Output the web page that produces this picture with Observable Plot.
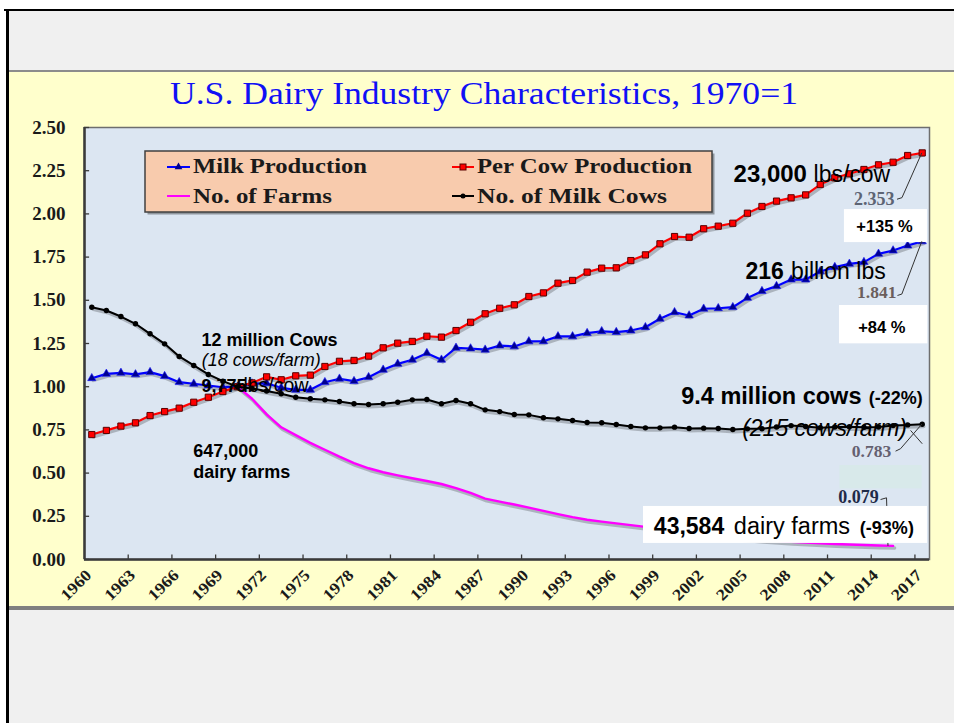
<!DOCTYPE html>
<html>
<head>
<meta charset="utf-8">
<script src="https://cdn.jsdelivr.net/npm/d3@7"></script>
<script src="https://cdn.jsdelivr.net/npm/@observablehq/plot@0.6"></script>
<style>
html, body { margin: 0; padding: 0; background: #ffffff; }
#page { position: relative; width: 954px; height: 723px; overflow: hidden; }
.bg { position: absolute; }
#chart { position: absolute; left: 0; top: 0; }
#overlay { position: absolute; left: 0; top: 0; pointer-events: none; }
</style>
</head>
<body>
<div id="page">
  <div class="bg" style="left:4px;top:9px;width:950px;height:2px;background:#000;"></div>
  <div class="bg" style="left:9px;top:11px;width:945px;height:59px;background:#f0f0f0;"></div>
  <div class="bg" style="left:9px;top:70px;width:945px;height:2px;background:#8c8c8c;"></div>
  <div class="bg" style="left:9px;top:72px;width:945px;height:534px;background:#ffffcc;"></div>
  <div class="bg" style="left:9px;top:606px;width:945px;height:4px;background:#7f7f7f;"></div>
  <div class="bg" style="left:9px;top:610px;width:945px;height:113px;background:#f0f0f0;"></div>
  <div class="bg" style="left:6px;top:9px;width:3px;height:714px;background:#000;"></div>
  <div id="chart"></div>
</div>
<script>
// ---------------- data ----------------
const years = [1960,1961,1962,1963,1964,1965,1966,1967,1968,1969,
  1970,1971,1972,1973,1974,1975,1976,1977,1978,1979,
  1980,1981,1982,1983,1984,1985,1986,1987,1988,1989,
  1990,1991,1992,1993,1994,1995,1996,1997,1998,1999,
  2000,2001,2002,2003,2004,2005,2006,2007,2008,2009,
  2010,2011,2012,2013,2014,2015,2016,2017];

const milkProduction = [1.049,1.074,1.080,1.071,1.084,1.061,1.026,1.017,1.007,0.997,
  1.000,1.018,1.020,0.994,0.982,0.982,1.026,1.046,1.032,1.055,
  1.098,1.132,1.156,1.194,1.156,1.225,1.221,1.214,1.238,1.233,
  1.262,1.263,1.291,1.291,1.310,1.321,1.316,1.325,1.344,1.393,
  1.431,1.412,1.451,1.454,1.460,1.514,1.553,1.582,1.620,1.620,
  1.667,1.692,1.711,1.721,1.769,1.788,1.817,1.841];

const perCowProduction = [0.723,0.747,0.772,0.791,0.833,0.856,0.876,0.910,0.939,0.972,
  1.000,1.022,1.057,1.040,1.063,1.067,1.117,1.147,1.152,1.177,
  1.225,1.252,1.262,1.292,1.287,1.325,1.373,1.422,1.454,1.474,
  1.522,1.543,1.599,1.615,1.663,1.686,1.688,1.730,1.763,1.827,
  1.869,1.865,1.914,1.929,1.946,2.004,2.043,2.074,2.093,2.110,
  2.170,2.209,2.232,2.257,2.284,2.299,2.338,2.353];

const dairyFarms = [null,null,null,null,null,null,null,null,null,null,
  1.000,0.930,0.840,0.765,0.720,0.675,0.635,0.595,0.558,0.528,
  0.505,0.487,0.470,0.454,0.437,0.413,0.385,0.352,0.335,0.318,
  0.300,0.281,0.263,0.245,0.230,0.219,0.209,0.199,0.189,0.178,
  0.166,0.156,0.146,0.137,0.128,0.121,0.114,0.108,0.103,0.098,
  0.094,0.090,0.087,0.084,0.081,0.079,null,null];

const milkCows = [1.460,1.441,1.406,1.364,1.306,1.248,1.175,1.123,1.071,1.032,
  1.000,0.990,0.975,0.959,0.939,0.930,0.924,0.914,0.901,0.897,
  0.901,0.910,0.924,0.926,0.901,0.920,0.901,0.866,0.856,0.839,
  0.837,0.820,0.814,0.804,0.793,0.791,0.781,0.770,0.762,0.762,
  0.766,0.758,0.760,0.758,0.752,0.756,0.757,0.767,0.775,0.770,
  0.763,0.767,0.768,0.765,0.767,0.775,0.779,0.783];

const yTicks = [0,0.25,0.5,0.75,1,1.25,1.5,1.75,2,2.25,2.5];
const xTickLabels = [1960,1963,1966,1969,1972,1975,1978,1981,1984,1987,1990,1993,1996,1999,2002,2005,2008,2011,2014,2017];
const seriesNames = ["Milk Production","Per Cow Production","No. of Farms","No. of Milk Cows"];
const chartTitle = "U.S. Dairy Industry Characteristics, 1970=1";

// ---------------- table ----------------
const rows = years.map((year, i) => ({
  year, milk: milkProduction[i], perCow: perCowProduction[i], farms: dairyFarms[i], cows: milkCows[i]
}));
const farmRows = rows.filter(d => d.farms != null);
const xBoundaries = d3.range(0, 20).map(k => years[0] - 0.5 + 3 * k).filter(v => v > years[0]);
const last = rows[rows.length - 1];
const lastFarm = farmRows[farmRows.length - 1];

const sans = "Liberation Sans, Arial, sans-serif";
const serif = "Liberation Serif, Times New Roman, serif";

function label(text, x, y, opts = {}) {
  return Plot.text([text], {x, y, text: d => d, lineAnchor: "bottom", textAnchor: "start",
    fontFamily: sans, fontSize: 18, fill: "#000", ...opts});
}
function shadow(data, key) {
  return Plot.line(data, {x: "year", y: key, stroke: "#000", strokeOpacity: 0.22, strokeWidth: 3.5, dx: 1.5, dy: 2.2});
}

const plot = Plot.plot({
  width: 954,
  height: 723,
  marginLeft: 84,
  marginRight: 25,
  marginTop: 127,
  marginBottom: 164,
  style: {background: "transparent", overflow: "visible"},
  x: {domain: [1959.5, 2017.5]},
  y: {domain: [0, 2.5]},
  marks: [
    Plot.frame({fill: "#dce6f2", stroke: "#6e6e6e", strokeWidth: 1.5}),
    // axes
    Plot.ruleX([1959.5], {stroke: "#3a3a3a", strokeWidth: 2.5}),
    Plot.ruleY([0], {stroke: "#3a3a3a", strokeWidth: 2.5}),
    Plot.ruleY(yTicks, {y: d => d, x1: 1959.5, x2: 1959.85, stroke: "#3a3a3a", strokeWidth: 1.3}),
    Plot.ruleX(xBoundaries, {x: d => d, y1: 0, y2: 0.026, stroke: "#3a3a3a", strokeWidth: 1.3}),
    Plot.axisY(yTicks, {tickSize: 0, tickPadding: 19, tickFormat: d3.format(".2f"), label: null,
      fontFamily: serif, fontSize: 19, fontWeight: "bold", fill: "#1a1a1a"}),
    Plot.axisX(xTickLabels, {tickSize: 0, tickRotate: -45, tickPadding: 13, dx: -3, tickFormat: d => String(d), label: null,
      fontFamily: serif, fontSize: 16, fontWeight: "bold", fill: "#1a1a1a", textAnchor: "end"}),
    // series: milk production
    shadow(rows, "milk"),
    Plot.line(rows, {x: "year", y: "milk", stroke: "#0000ff", strokeWidth: 2.2}),
    Plot.dot(rows, {x: "year", y: "milk", symbol: "triangle", r: 3.1, fill: "#000090", stroke: "#1a1aff", strokeWidth: 0.6}),
    // per cow production
    shadow(rows, "perCow"),
    Plot.line(rows, {x: "year", y: "perCow", stroke: "#ff0000", strokeWidth: 2.2}),
    Plot.dot(rows, {x: "year", y: "perCow", symbol: "square", r: 3.5, fill: "#ff0000", stroke: "#5a0000", strokeWidth: 1}),
    // farms
    shadow(farmRows, "farms"),
    Plot.line(farmRows, {x: "year", y: "farms", stroke: "#ff00ff", strokeWidth: 2.4}),
    // cows
    shadow(rows, "cows"),
    Plot.line(rows, {x: "year", y: "cows", stroke: "#000000", strokeWidth: 2}),
    Plot.dot(rows, {x: "year", y: "cows", r: 2.7, fill: "#000000"}),
    // leader to farms end (mostly under box)
    Plot.link([0], {x1: 2014.14, y1: 0.347, x2: 2014.55, y2: 0.357, stroke: "#333", strokeWidth: 1}),
    Plot.link([0], {x1: 2014.55, y1: 0.357, x2: 2014.65, y2: lastFarm.farms, stroke: "#333", strokeWidth: 1}),
    // boxes
    Plot.rect([0], {x1: 2011.66, x2: 2017.36, y1: 1.834, y2: 2.025, fill: "#ffffff"}),
    Plot.rect([0], {x1: 2011.32, x2: 2017.38, y1: 1.248, y2: 1.470, fill: "#ffffff"}),
    Plot.rect([0], {x1: 2011.35, x2: 2017.0, y1: 0.409, y2: 0.544, fill: "#d8e9ea"}),
    Plot.rect([0], {x1: 1997.87, x2: 2017.36, y1: 0.093, y2: 0.307, fill: "#ffffff"}),
    // leaders to end values
    Plot.link([0], {x1: 2015.27, y1: 2.085, x2: 2015.61, y2: 2.094, stroke: "#333", strokeWidth: 1}),
    Plot.link([0], {x1: 2015.61, y1: 2.094, x2: 2016.97, y2: last.perCow, stroke: "#333", strokeWidth: 1}),
    Plot.link([0], {x1: 2015.30, y1: 1.528, x2: 2015.60, y2: 1.536, stroke: "#333", strokeWidth: 1}),
    Plot.link([0], {x1: 2015.60, y1: 1.536, x2: 2016.97, y2: last.milk, stroke: "#333", strokeWidth: 1}),
    Plot.link([0], {x1: 2015.17, y1: 0.627, x2: 2015.51, y2: 0.641, stroke: "#333", strokeWidth: 1}),
    Plot.link([0], {x1: 2015.51, y1: 0.641, x2: 2016.97, y2: last.cows, stroke: "#333", strokeWidth: 1}),
    Plot.link([0], {x1: 2016.2, y1: 0.747, x2: 2017.0, y2: 0.670, stroke: "#333", strokeWidth: 1}),
    // annotation texts
    label("23,000", 2004.05, 2.182, {fontSize: 24, fontWeight: "bold"}),
    label("lbs/cow", 2009.54, 2.182, {fontSize: 23}),
    label("2.353", 2015.1, 2.054, {textAnchor: "end", fontFamily: serif, fontSize: 18, fontWeight: "bold", fill: "#5d6474", ariaLabel: "v2353"}),
    label("+135 %", 2014.41, 1.894, {textAnchor: "middle", fontSize: 16.5, fontWeight: "bold"}),
    label("216", 2004.87, 1.624, {fontSize: 23, fontWeight: "bold"}),
    label("billion lbs", 2008.0, 1.624, {fontSize: 23}),
    label("1.841", 2015.23, 1.516, {textAnchor: "end", fontFamily: serif, fontSize: 17.5, fontWeight: "bold", fill: "#6b5e5c", ariaLabel: "v1841"}),
    label("+84 %", 2014.23, 1.310, {textAnchor: "middle", fontSize: 16.5, fontWeight: "bold"}),
    label("12 million Cows", 1967.53, 1.238, {fontWeight: "bold"}),
    label("(18 cows/farm)", 1967.54, 1.117, {fontStyle: "italic"}),
    label("9,775", 1967.53, 0.972, {fontWeight: "bold"}),
    label("lbs/cow", 1970.41, 0.972, {fontSize: 19.5}),
    label("647,000", 1966.96, 0.596, {fontWeight: "bold"}),
    label("dairy farms", 1966.96, 0.473, {fontWeight: "bold"}),
    label("9.4 million cows", 2000.46, 0.897, {fontSize: 23.5, fontWeight: "bold"}),
    label("(-22%)", 2013.33, 0.897, {fontSize: 18, fontWeight: "bold"}),
    label("(215 cows/farm)", 2004.64, 0.712, {fontSize: 23, fontStyle: "italic"}),
    label("0.783", 2014.87, 0.596, {textAnchor: "end", fontFamily: serif, fontSize: 17.5, fontWeight: "bold", fill: "#646070", ariaLabel: "v0783"}),
    label("0.079", 2014.02, 0.326, {textAnchor: "end", fontFamily: serif, fontSize: 18, fontWeight: "bold", fill: "#1f2b48", ariaLabel: "v0079"}),
    label("43,584", 1998.58, 0.149, {fontSize: 23, fontWeight: "bold"}),
    label("dairy farms", 2004.07, 0.149, {fontSize: 23.5}),
    label("(-93%)", 2012.72, 0.149, {fontSize: 18, fontWeight: "bold"})
  ]
});

// stretch serif glyph runs like the source image
const sel = d3.select(plot);
[["v2353", 51], ["v1841", 49], ["v0783", 51], ["v0079", 50]].forEach(([k, w]) => {
  sel.selectAll(`g[aria-label="${k}"] text`).attr("textLength", w).attr("lengthAdjust", "spacingAndGlyphs");
});
sel.selectAll('g[aria-label="x-axis tick label"] text').attr("textLength", 36).attr("lengthAdjust", "spacingAndGlyphs");

document.getElementById("chart").appendChild(plot);

// ---------------- title + legend overlay ----------------
const ov = d3.select("#page").append("svg").attr("id", "overlay").attr("width", 954).attr("height", 723);
ov.append("text").attr("x", 170).attr("y", 104).attr("textLength", 628).attr("lengthAdjust", "spacingAndGlyphs")
  .attr("font-family", serif).attr("font-size", 31).attr("fill", "#1010f5").text(chartTitle);

const lg = ov.append("g");
lg.append("rect").attr("x", 147.5).attr("y", 153.5).attr("width", 567).attr("height", 61).attr("fill", "#000").attr("opacity", 0.35);
lg.append("rect").attr("x", 145).attr("y", 151).attr("width", 567).attr("height", 61).attr("fill", "#f8cbad").attr("stroke", "#404040").attr("stroke-width", 1.5);

const legendItems = [
  {name: seriesNames[0], color: "#0000ff", marker: "triangle", x0: 167, x1: 190, ly: 167, tx: 193, ty: 172.5, w: 174},
  {name: seriesNames[1], color: "#ff0000", marker: "square", x0: 452, x1: 474, ly: 167, tx: 477, ty: 172.5, w: 215},
  {name: seriesNames[2], color: "#ff00ff", marker: null, x0: 167, x1: 190, ly: 196, tx: 193, ty: 203, w: 139},
  {name: seriesNames[3], color: "#000000", marker: "circle", x0: 452, x1: 474, ly: 196, tx: 477, ty: 203, w: 190}
];
legendItems.forEach(it => {
  lg.append("line").attr("x1", it.x0).attr("x2", it.x1).attr("y1", it.ly).attr("y2", it.ly)
    .attr("stroke", it.color).attr("stroke-width", 2);
  const cx = (it.x0 + it.x1) / 2;
  if (it.marker === "triangle") {
    lg.append("path").attr("d", d3.symbol(d3.symbolTriangle, 26)()).attr("transform", `translate(${cx},${it.ly})`).attr("fill", "#000090");
  } else if (it.marker === "square") {
    lg.append("rect").attr("x", cx - 3).attr("y", it.ly - 3).attr("width", 6).attr("height", 6).attr("fill", "#ff0000").attr("stroke", "#5a0000");
  } else if (it.marker === "circle") {
    lg.append("circle").attr("cx", cx).attr("cy", it.ly).attr("r", 2.5).attr("fill", "#000");
  }
  lg.append("text").attr("x", it.tx).attr("y", it.ty).attr("textLength", it.w).attr("lengthAdjust", "spacingAndGlyphs")
    .attr("font-family", serif).attr("font-size", 20).attr("font-weight", "bold").attr("fill", "#1a1a1a").text(it.name);
});
</script>
</body>
</html>
